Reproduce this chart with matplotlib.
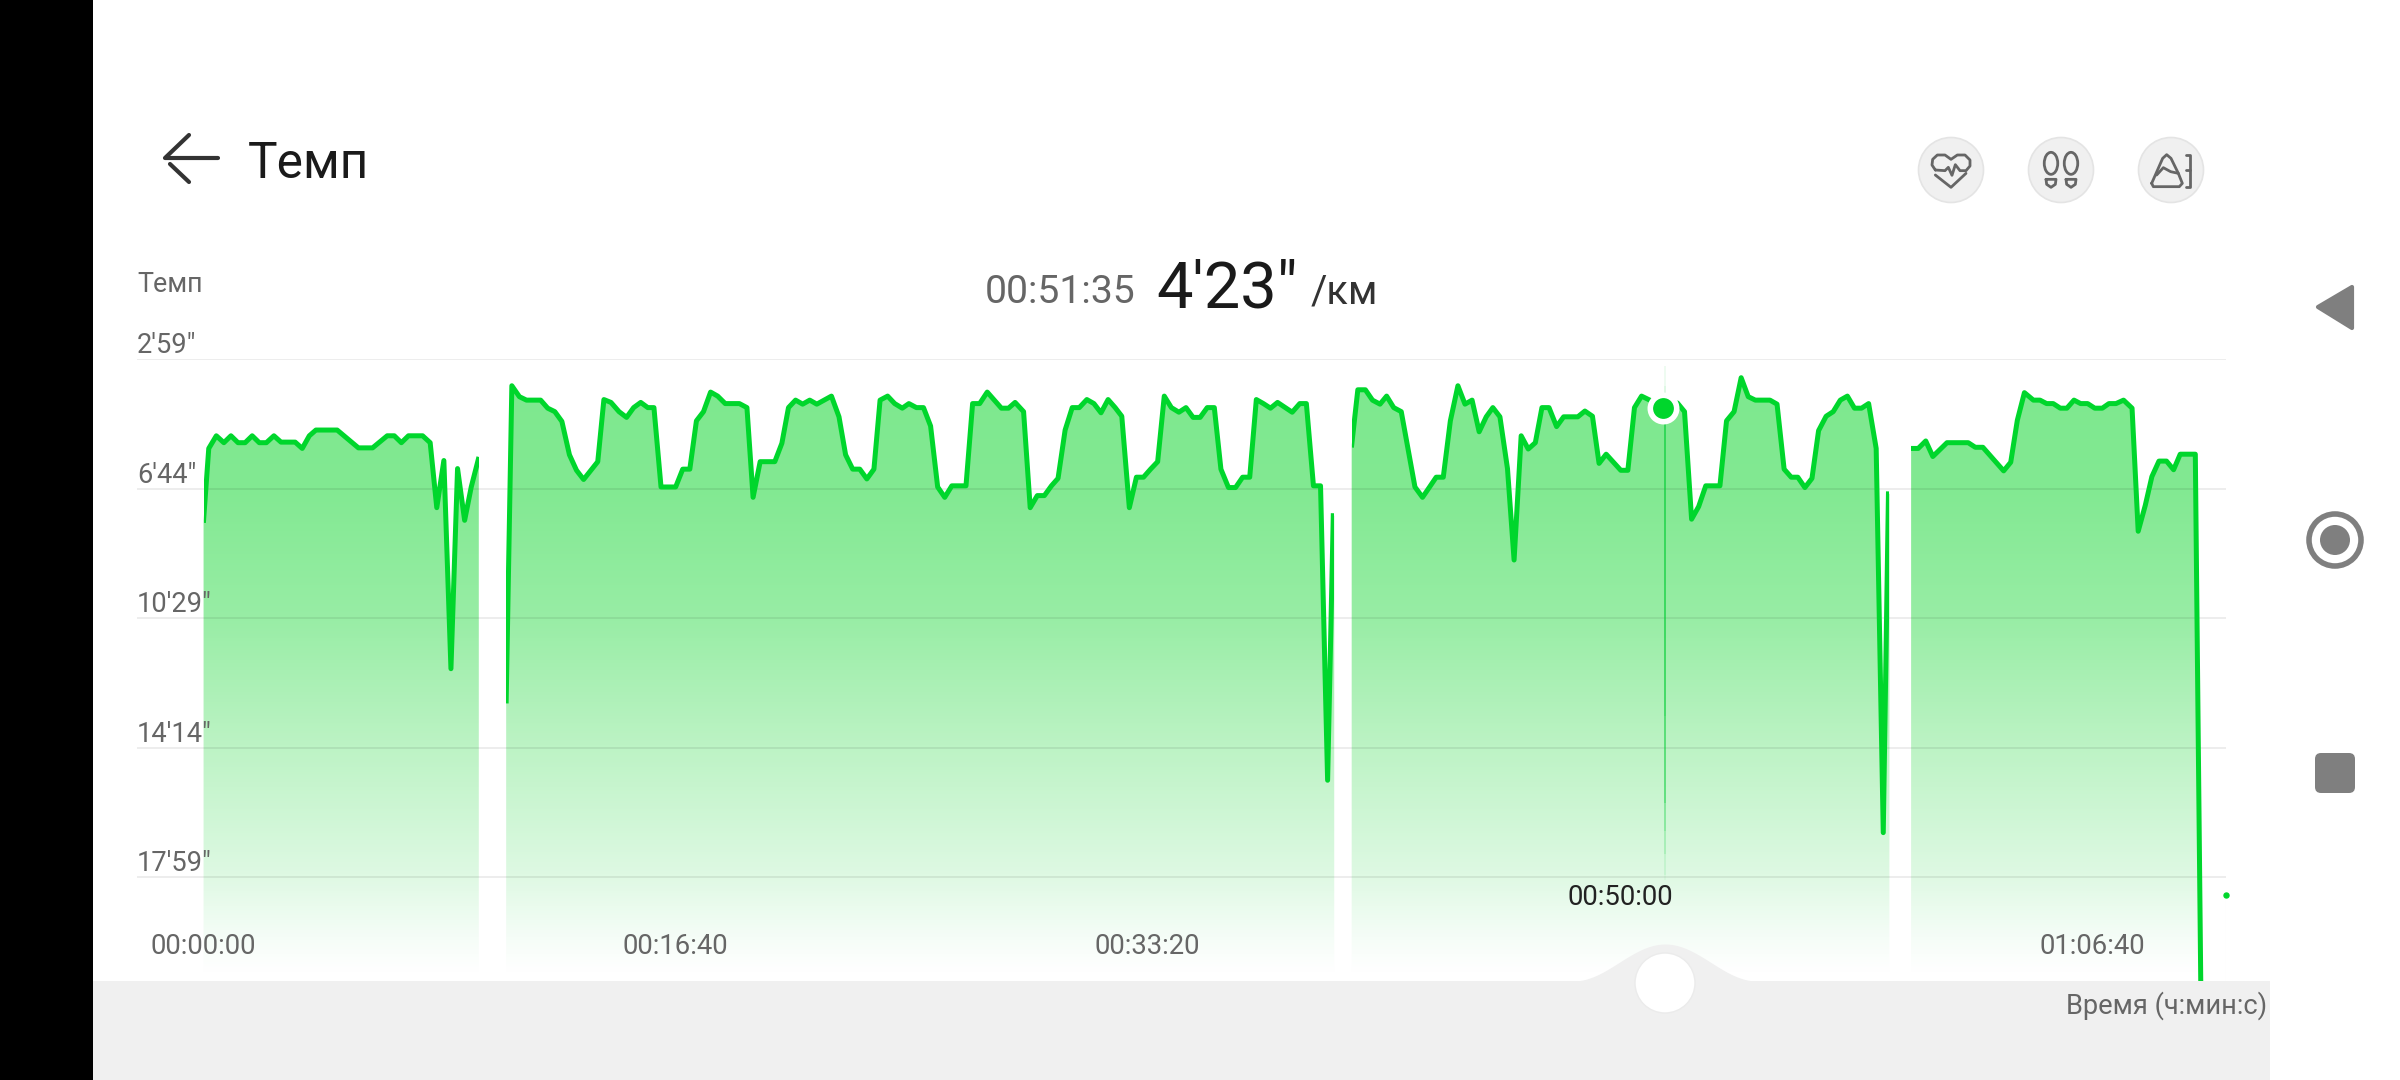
import numpy as np
import matplotlib
matplotlib.use("Agg")
import matplotlib.pyplot as plt
from matplotlib.colors import LinearSegmentedColormap
from matplotlib.patches import Circle, Ellipse, FancyBboxPatch, Polygon, Rectangle

plt.rcParams["font.family"] = ["Roboto", "DejaVu Sans"]

# pace chart data: time in seconds, pace in seconds per km
seg1_time = [0, 11, 27, 43, 58, 73, 88, 103, 118, 133, 149, 164, 194, 209, 224, 238, 283, 328, 358, 389, 404, 419, 434,
             464, 480, 494, 509, 524, 538, 553, 567, 582]
seg1_pace = [459, 334, 312, 324, 312, 324, 324, 312, 324, 324, 312, 323, 323, 334, 312, 302, 302, 333, 333, 312, 312,
             324, 312, 312, 324, 437, 355, 717, 369, 459, 401, 353]

seg2_time = [641, 653, 669, 684, 714, 729, 744, 759, 775, 790, 805, 835, 848, 863, 880, 896, 911, 926, 941, 954, 969,
             1000, 1015, 1030, 1044, 1059, 1074, 1089, 1105, 1135, 1151, 1164, 1179, 1210, 1225, 1239, 1254, 1269,
             1284, 1299, 1330, 1346, 1360, 1375, 1390, 1405, 1420, 1433, 1449, 1464, 1480, 1494, 1510, 1525, 1540,
             1555, 1570, 1585, 1615, 1629, 1644, 1660, 1690, 1705, 1719, 1737, 1751, 1766, 1781, 1796, 1810, 1825,
             1840, 1855, 1871, 1886, 1901, 1916, 1931, 1945, 1961, 1976, 1991, 2006, 2021, 2035, 2050, 2066, 2081,
             2096, 2111, 2126, 2141, 2155, 2171, 2186, 2201, 2216, 2230, 2245, 2260, 2275, 2306, 2322, 2336, 2351,
             2366, 2381, 2393]
seg2_pace = [773, 225, 244, 250, 250, 264, 270, 287, 345, 372, 388, 357, 249, 254, 270, 280, 263, 254, 263, 263, 401,
             401, 370, 370, 286, 270, 236, 243, 256, 256, 263, 419, 357, 357, 325, 263, 250, 257, 250, 257, 243, 279,
             345, 370, 370, 387, 370, 250, 243, 256, 264, 256, 263, 263, 295, 401, 419, 399, 399, 256, 256, 236, 264,
             264, 254, 270, 437, 416, 416, 399, 386, 302, 263, 263, 249, 256, 272, 249, 263, 278, 437, 384, 384, 370,
             357, 243, 263, 271, 263, 280, 280, 263, 263, 370, 402, 402, 384, 384, 249, 256, 264, 254, 271, 256, 256,
             399, 399, 911, 451]

seg3_time = [2432, 2445, 2461, 2476, 2492, 2506, 2521, 2537, 2566, 2582, 2597, 2611, 2626, 2641, 2657, 2672, 2687,
             2702, 2717, 2731, 2746, 2762, 2776, 2791, 2806, 2821, 2835, 2850, 2866, 2881, 2911, 2926, 2942, 2956,
             2971, 3002, 3017, 3031, 3046, 3061, 3076, 3092, 3107, 3122, 3137, 3152, 3167, 3182, 3212, 3226, 3242,
             3257, 3272, 3287, 3318, 3333, 3348, 3363, 3377, 3392, 3407, 3421, 3437, 3452, 3467, 3482, 3497, 3512,
             3527, 3543, 3558, 3569]
seg3_pace = [328, 232, 232, 250, 257, 243, 263, 270, 401, 419, 401, 384, 384, 286, 225, 257, 250, 305, 279, 263, 279,
             369, 528, 312, 335, 324, 263, 263, 296, 279, 279, 269, 278, 360, 344, 372, 372, 263, 243, 249, 255, 264,
             264, 255, 270, 457, 435, 399, 399, 286, 270, 211, 244, 250, 250, 257, 370, 384, 384, 402, 386, 303, 278,
             270, 250, 243, 264, 264, 256, 334, 1002, 413]

seg4_time = [3617, 3632, 3648, 3663, 3693, 3738, 3753, 3769, 3813, 3828, 3842, 3857, 3876, 3890, 3904, 3918, 3933,
             3947, 3962, 3976, 3991, 4006, 4022, 4036, 4051, 4067, 4085, 4098, 4113, 4127, 4142, 4158, 4173, 4187,
             4219, 4231]
seg4_pace = [334, 334, 321, 348, 324, 324, 332, 332, 373, 358, 285, 237, 250, 250, 256, 256, 264, 264, 250, 256, 256,
             264, 264, 256, 256, 250, 264, 478, 433, 383, 356, 356, 371, 344, 344, 1300]

seg_times = [seg1_time, seg2_time, seg3_time, seg4_time]
seg_paces = [seg1_pace, seg2_pace, seg3_pace, seg4_pace]
seg_ends = [583, 2395, 3571, 4240]

last_time = 4283
last_pace = 1110

selected_time = 3095
selected_pace = 264

pace_ticks = [179, 404, 629, 854, 1079]
pace_labels = ["2'59\"", "6'44\"", "10'29\"", "14'14\"", "17'59\""]
time_ticks = [0, 1000, 2000, 3000, 4000]
time_labels = ["00:00:00", "00:16:40", "00:33:20", "00:50:00", "01:06:40"]

GREEN = "#00d62c"
GRAY = "#666666"
W, H = 2400, 1080

fig = plt.figure(figsize=(24, 10.8), dpi=100, facecolor="white")

# chart area runs from the left end of the grid to the top of the slider band
left, right, top, bottom = 137, 2226, 359.3, 981
ax = fig.add_axes([left / W, 1 - bottom / H, (right - left) / W, (bottom - top) / H])
ax.patch.set_alpha(0)
for s in ax.spines.values():
    s.set_visible(False)

grad = LinearSegmentedColormap.from_list("pace_fill", [
    (0.0, (125 / 255, 232 / 255, 142 / 255)),
    (0.21, (130 / 255, 233 / 255, 146 / 255)),
    (0.415, (152 / 255, 237 / 255, 165 / 255)),
    (0.62, (188 / 255, 243 / 255, 196 / 255)),
    (0.83, (222 / 255, 249 / 255, 227 / 255)),
    (0.93, (245 / 255, 253 / 255, 247 / 255)),
    (0.985, (1, 1, 1)),
    (1.0, (1, 1, 1)),
])
xmin, xmax = -141, last_time + 1
ymin, ymax = 1260, 179
ramp = np.linspace(0, 1, 512).reshape(-1, 1)

for t, p, end in zip(seg_times, seg_paces, seg_ends):
    verts = [(t[0], ymin)] + list(zip(t, p)) + [(end, p[-1]), (end, ymin)]
    shape = Polygon(verts, closed=True, transform=ax.transData, fc="none", ec="none")
    ax.add_patch(shape)
    im = ax.imshow(ramp, extent=(xmin, xmax, ymin, ymax), aspect="auto", cmap=grad, vmin=0, vmax=1,
                   origin="upper", zorder=1)
    im.set_clip_path(shape)
    line, = ax.plot(t, p, color=GREEN, lw=3.6, zorder=4, solid_joinstyle="round")
    line.set_clip_path(Rectangle((t[0], ymax), end - t[0], ymin - ymax, transform=ax.transData))

# last lone sample at the far right
ax.vlines(last_time, last_pace, ymin, color=GREEN, lw=0.8, alpha=0.08, zorder=2)
ax.plot([last_time], [last_pace], "o", color=GREEN, ms=3.6, clip_on=False, zorder=4)

# cursor line, fades out at both ends
cursor_y = np.array([190, 225, 260, 500, 800, 950, 1000, 1040, 1075, 1085])
cursor_a = [0.08, 0.15, 0.7, 0.7, 0.6, 0.4, 0.25, 0.12, 0.05]
ax.vlines(np.full(9, selected_time), cursor_y[:-1], cursor_y[1:], colors=[(0, 0.8, 0.2, a) for a in cursor_a], lw=1.2, zorder=3)
ax.plot([selected_time - 3], [selected_pace], "o", ms=19, mfc=GREEN, mec="white", mew=4, zorder=6)

ax.set_xlim(xmin, xmax)
ax.set_ylim(ymin, ymax)

ax.set_yticks(pace_ticks, pace_labels)
ax.yaxis.tick_right()
ax.grid(axis="y", color="#000000", alpha=0.09, lw=1.1, zorder=5)
ax.set_axisbelow(False)
ax.tick_params(axis="y", length=0, pad=-(right - left) * 0.72, labelsize=19.6, labelcolor=GRAY, right=False)
for lab in ax.get_yticklabels():
    lab.set_va("bottom")
    lab.set_ha("left")
    lab.set_zorder(7)
    lab.set_y(lab.get_position()[1])

ax.set_xticks(time_ticks, time_labels)
ax.tick_params(axis="x", length=0, pad=0, labelsize=19.8, labelcolor=GRAY)
for i, lab in enumerate(ax.get_xticklabels()):
    lab.set_va("center")
    lab.set_y(0.0547)
ax.get_xticklabels()[3].set_y(0.1345)
ax.get_xticklabels()[3].set_color("#222222")

# screen furniture in pixel coordinates on top of the chart
ui = fig.add_axes([0, 0, 1, 1], zorder=10)
ui.set_xlim(0, W)
ui.set_ylim(H, 0)
ui.axis("off")
ui.patch.set_alpha(0)

BAND = "#f0f0f0"
ui.add_patch(Rectangle((0, 0), 93, H, fc="black", ec="none"))
ui.add_patch(Rectangle((93, 981), 2270 - 93, H - 981, fc=BAND, ec="none"))
bx = np.linspace(1573, 1757, 80)
by = 981 - 37 * (0.5 + 0.5 * np.cos(np.pi * (bx - 1665) / 92))
ui.fill_between(bx, by, 982, color=BAND, lw=0)
ui.add_patch(Circle((1665, 983), 30, fc="white", ec="#ebebeb", lw=1))
ui.text(2267, 1006, "Время (ч:мин:с)", color=GRAY, fontsize=19.6, ha="right", va="center")

# header
ui.plot([218, 165, 189], [158, 158, 135], color="#333333", lw=3, solid_capstyle="round", solid_joinstyle="round")
ui.plot([170, 189], [164, 182], color="#333333", lw=3, solid_capstyle="round")
ui.text(248, 178, "Темп", color="#1a1a1a", fontsize=35.7, va="baseline")
ui.text(137, 291.5, "Темп", color=GRAY, fontsize=19.3, va="baseline")
ui.text(985, 303, "00:51:35", color=GRAY, fontsize=28.2, va="baseline")
ui.text(1156, 308, "4'23\"", color="#1a1a1a", fontsize=46.8, va="baseline")
ui.text(1311, 303, "/км", color="#333333", fontsize=28.6, va="baseline")


def icon(zx, zy, **kw):
    # icon shapes were measured on a 3x crop starting at (1880, 120)
    ui.plot(1880 + np.array(zx) / 3, 120 + np.array(zy) / 3, color="#666666", lw=2,
            solid_capstyle="round", solid_joinstyle="round", **kw)


for cx in [1951, 2061, 2171]:
    ui.add_patch(Circle((cx, 170), 32.5, fc="#f0f0f0", ec="#e4e4e4", lw=1.2))

icon([166, 156, 158, 172, 195, 213, 232, 255, 270, 270, 258, 240, 226, 216, 205, 195, 166],
     [150, 135, 118, 105, 105, 118, 105, 105, 120, 138, 152, 152, 134, 166, 142, 152, 150])
icon([166, 213, 258], [165, 202, 160])
for off in [0, 60]:
    ui.add_patch(Ellipse((1880 + (513 + off) / 3, 120 + 130 / 3), 13.5, 22, fc="none", ec="#666666", lw=2))
    icon(np.array([498, 528, 526, 513, 500, 498]) + off, [178, 178, 193, 202, 193, 178])
icon([815, 848, 860, 873, 895, 907, 898, 820, 815], [190, 115, 104, 115, 160, 190, 200, 200, 190])
icon([830, 850, 872, 895], [165, 143, 155, 160])
icon([918, 930, 930, 918], [104, 104, 200, 200])
icon([918, 930], [150, 150])

# android nav bar
NAV = "#7f7f7f"
ui.add_patch(Polygon([(2318, 307), (2352, 287), (2352, 328)], closed=True, fc=NAV, ec=NAV, lw=3, joinstyle="round"))
ui.add_patch(Circle((2335, 540), 26, fc="none", ec=NAV, lw=4))
ui.add_patch(Circle((2335, 540), 15, fc=NAV, ec="none"))
ui.add_patch(FancyBboxPatch((2319, 757), 32, 32, boxstyle="round,pad=4,rounding_size=6", fc=NAV, ec="none"))

fig.savefig("out.png", dpi=100)
